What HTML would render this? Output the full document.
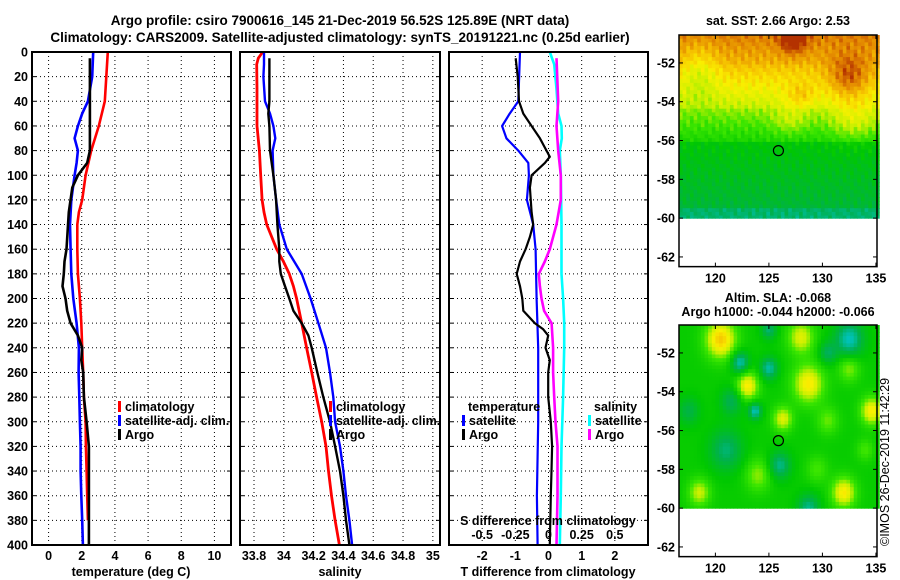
<!DOCTYPE html>
<html><head><meta charset="utf-8">
<style>
html,body{margin:0;padding:0;background:#fff;}
svg{display:block;font-family:"Liberation Sans",Arial,sans-serif;font-weight:bold;}
</style></head>
<body>
<svg id="chart" width="900" height="580" viewBox="0 0 900 580" xmlns="http://www.w3.org/2000/svg">
<g id="maps"></g>
<g id="panels"></g>
<g id="texts" font-size="12.5" fill="#000">
 <text x="340" y="25" text-anchor="middle" font-size="13.5">Argo profile: csiro 7900616_145 21-Dec-2019 56.52S 125.89E (NRT data)</text>
 <text x="340" y="42" text-anchor="middle" font-size="13.5">Climatology: CARS2009. Satellite-adjusted climatology: synTS_20191221.nc (0.25d earlier)</text>
 <text x="131" y="576" text-anchor="middle">temperature (deg C)</text>
 <text x="340" y="576" text-anchor="middle">salinity</text>
 <text x="548" y="576" text-anchor="middle">T difference from climatology</text>
 <text x="548" y="525" text-anchor="middle">S difference from climatology</text>
 <text x="778" y="25" text-anchor="middle">sat. SST: 2.66 Argo: 2.53</text>
 <text x="778" y="302" text-anchor="middle">Altim. SLA: -0.068</text>
 <text x="778" y="316" text-anchor="middle">Argo h1000: -0.044 h2000: -0.066</text>
 <text transform="translate(889,546) rotate(-90)" font-weight="normal" font-size="12.5">©IMOS 26-Dec-2019 11:42:29</text>
</g>
</svg>
<script>
// ---- data (depths in m) ----
const tDepth = [0,40,60,80,100,120,130,140,160,180,200,220,240,260,280,300,320,340,360,380];
const tClim  = [3.57,3.39,3.03,2.57,2.23,2.03,1.83,1.73,1.73,1.77,1.89,1.97,2.03,2.09,2.13,2.23,2.25,2.29,2.33,2.37];
const tSatDepth = [0,20,40,50,60,70,80,90,100,120,140,160,180,200,220,240,260,280,300,320,340,360,380,400];
const tSat   = [2.69,2.63,2.37,2.03,1.77,1.57,1.77,1.69,1.57,1.37,1.29,1.33,1.37,1.49,1.69,1.83,1.81,1.85,1.89,1.93,1.93,1.97,2.03,2.07];
const tArgoDepth = [5,80,90,100,110,130,160,170,180,190,200,210,220,230,240,250,260,280,300,320,340,360,400];
const tArgo  = [2.49,2.49,2.33,1.77,1.43,1.22,1.08,0.96,0.92,0.84,1.02,1.12,1.33,1.77,2.03,1.97,2.09,2.13,2.29,2.43,2.43,2.43,2.43];

const sClimDepth = [0,5,10,30,60,80,100,120,130,140,150,160,170,180,190,200,220,240,260,280,300,320,340,360,380,400];
const sClim = [33.858,33.829,33.818,33.82,33.82,33.836,33.845,33.854,33.867,33.885,33.919,33.952,33.997,34.037,34.064,34.086,34.12,34.153,34.187,34.22,34.254,34.283,34.30,34.32,34.344,34.373];
const sSatDepth = [0,10,20,40,50,60,70,80,100,120,140,160,180,200,220,240,260,280,300,320,340,360,380,400];
const sSat = [33.867,33.867,33.863,33.874,33.907,33.93,33.943,33.925,33.93,33.948,33.97,34.02,34.12,34.18,34.232,34.283,34.31,34.332,34.344,34.377,34.40,34.417,34.44,34.458];
const sArgoDepth = [5,40,50,60,80,100,120,140,160,170,180,190,200,210,220,230,240,260,280,300,320,340,360,380,400];
const sArgo = [33.903,33.903,33.896,33.903,33.907,33.93,33.948,33.957,33.97,33.97,33.98,34.008,34.037,34.064,34.12,34.165,34.187,34.225,34.265,34.31,34.344,34.377,34.40,34.417,34.44];

const dTSatDepth = [0,40,50,60,70,80,90,100,120,140,160,200,240,300,360,400];
const dTSat = [-0.86,-0.91,-1.17,-1.40,-1.27,-0.91,-0.61,-0.59,-0.65,-0.46,-0.39,-0.36,-0.31,-0.31,-0.35,-0.33];
const dTArgoDepth = [5,20,40,50,60,70,80,85,90,100,110,130,140,150,160,170,180,190,200,210,220,225,230,240,250,260,280,300,320,340,360,400];
const dTArgo = [-0.99,-0.93,-0.89,-0.76,-0.51,-0.26,-0.06,0.04,-0.11,-0.51,-0.56,-0.51,-0.46,-0.56,-0.69,-0.86,-0.96,-0.86,-0.79,-0.76,-0.41,-0.16,-0.01,-0.09,0.04,-0.01,-0.01,0.07,0.11,0.09,0.07,0.04];
const dSSatDepth = [0,10,30,50,60,70,80,100,140,180,200,220,240,280,320,360,400];
const dSSat = [0.01,0.043,0.06,0.073,0.098,0.10,0.085,0.093,0.098,0.098,0.11,0.118,0.118,0.11,0.098,0.093,0.085];
const dSArgoDepth = [5,40,60,80,100,120,140,160,170,180,190,200,210,220,240,260,280,300,320,360,400];
const dSArgo = [0.06,0.073,0.06,0.073,0.093,0.093,0.06,0.01,-0.028,-0.073,-0.065,-0.053,-0.033,0.023,0.035,0.035,0.043,0.053,0.068,0.068,0.06];

const depthTicks = [0,20,40,60,80,100,120,140,160,180,200,220,240,260,280,300,320,340,360,380,400];
const tTicks = [0,2,4,6,8,10];
const sTicks = [33.8,34,34.2,34.4,34.6,34.8,35];
const sTickLabels = ["33.8","34","34.2","34.4","34.6","34.8","35"];
const dTTicks = [-2,-1,0,1,2];
const dSTicks = [-0.5,-0.25,0,0.25,0.5];
const dSTickLabels = ["-0.5","-0.25","0","0.25","0.5"];

// map data
const mapLatTicks = [-52,-54,-56,-58,-60,-62];
const mapLonTicks = [120,125,130,135];
const argoLoc = [125.89,-56.52];
// SLA blobs: lon, lat, amplitude, radius(deg)
const slaBlobs = [[120.5,-51.3,1.3,1.4],[122.3,-52.5,-1.0,0.8],[125,-52.8,-0.9,0.8],[123,-53.7,1.1,1.0],[128.7,-53.6,1.1,1.4],[128,-51.2,0.9,1.2],[125,-50.8,-0.7,0.7],[132.5,-51.3,-1.0,1.3],[132.5,-52.8,0.6,1.0],[134.6,-55,1.1,1.0],[126.3,-55.4,0.9,0.9],[123.7,-55,-1.0,0.6],[121,-57,-0.7,1.5],[126,-57.8,-0.8,1.0],[118.5,-59.2,0.8,1.0],[124,-58.3,0.6,1.2],[132,-59.2,1.1,1.1],[129.5,-58,0.4,1.0],[128.7,-60,-0.8,1.0],[134,-57,0.4,0.8],[130.5,-55.5,0.5,1.0],[121.5,-54.5,-0.6,1.0],[117.5,-55,-0.5,1.0],[130.5,-52,-0.6,0.8]];

const NS='http://www.w3.org/2000/svg';
function el(tag, attrs, parent){const e=document.createElementNS(NS,tag);for(const k in attrs)e.setAttribute(k,attrs[k]);parent.appendChild(e);return e;}
const panels=document.getElementById('panels');
const TOP=52,BOT=545;
function yD(d){return TOP+(d/400)*(BOT-TOP);}

function makePanel(name,x0,x1,dmin,dmax){
  const sx=v=>x0+(v-dmin)/(dmax-dmin)*(x1-x0);
  const g=el('g',{},panels);
  
  
  return {g,sx,x0,x1};
}
function grid(p,xticks){
  for(const d of depthTicks){ if(d===0||d===400)continue;
    const l=el('line',{x1:p.x0,x2:p.x1,y1:yD(d),y2:yD(d),stroke:'#000','stroke-width':1,'stroke-dasharray':'1,3'},p.g);
    
    el('line',{x1:p.x0,x2:p.x0+4,y1:yD(d),y2:yD(d),stroke:'#000'},p.g);
    el('line',{x1:p.x1-4,x2:p.x1,y1:yD(d),y2:yD(d),stroke:'#000'},p.g);
  }
  for(const v of xticks){const x=p.sx(v);
    const l=el('line',{x1:x,x2:x,y1:TOP,y2:BOT,stroke:'#000','stroke-width':1,'stroke-dasharray':'1,3'},p.g);
    
  }
}
function frame(p){const r=el('rect',{x:p.x0,y:TOP,width:p.x1-p.x0,height:BOT-TOP,fill:'none',stroke:'#000','stroke-width':2},p.g);
  }
function series(p,vals,depths,color,name,w){
  let d='';vals.forEach((v,i)=>{d+=(i?'L':'M')+p.sx(v).toFixed(1)+','+yD(depths[i]).toFixed(1);});
  const path=el('path',{d,fill:'none',stroke:color,'stroke-width':w||2.6,'stroke-linejoin':'round'},p.g);
  
  
}
function txt(parent,x,y,s,anchor,name,extra){const t=el('text',Object.assign({x,y,'font-size':12.5,'text-anchor':anchor||'start'},extra||{}),parent);t.textContent=s;
  return t;}
function legend(p,x,y,items){
  items.forEach((it,i)=>{const yy=y+i*14;
    const b=el('rect',{x:x,y:yy-10,width:3,height:11,fill:it[1]},p.g);
    
    txt(p.g,x+7,yy,it[0],'start','legend-entry');});
}

// Panel 1 temperature
const p1=makePanel('temperature-panel',32,231,-1,11);
grid(p1,tTicks);
series(p1,tClim,tDepth,'#ff0000','series-climatology-temp');
series(p1,tSat,tSatDepth,'#0000ff','series-satellite-temp');
series(p1,tArgo,tArgoDepth,'#000000','series-argo-temp');
frame(p1);
for(const d of depthTicks) txt(p1.g,28,yD(d)+4.5,String(d),'end','y-tick-label');
tTicks.forEach(v=>txt(p1.g,p1.sx(v),560,String(v),'middle','x-tick-label'));
legend(p1,118,411,[['climatology','#ff0000'],['satellite-adj. clim.','#0000ff'],['Argo','#000000']]);

// Panel 2 salinity
const p2=makePanel('salinity-panel',240,440,33.706,35.048);
grid(p2,sTicks);
series(p2,sClim,sClimDepth,'#ff0000','series-climatology-sal',2.8);
series(p2,sSat,sSatDepth,'#0000ff','series-satellite-sal',2.4);
series(p2,sArgo,sArgoDepth,'#000000','series-argo-sal',2.4);
frame(p2);
sTicks.forEach((v,i)=>txt(p2.g,p2.sx(v),560,sTickLabels[i],'middle','x-tick-label'));
legend(p2,329,411,[['climatology','#ff0000'],['satellite-adj. clim.','#0000ff'],['Argo','#000000']]);

// Panel 3 differences
const p3=makePanel('difference-panel',449,648,-3,3);
const p3s={g:p3.g,sx:v=>p3.sx(v*4)};
grid(p3,dTTicks);
series(p3s,dSSat,dSSatDepth,'#00ffff','series-satellite-sdiff');
series(p3s,dSArgo,dSArgoDepth,'#ff00ff','series-argo-sdiff');
series(p3,dTSat,dTSatDepth,'#0000ff','series-satellite-tdiff',2.2);
series(p3,dTArgo,dTArgoDepth,'#000000','series-argo-tdiff',2.2);
frame(p3);
dTTicks.forEach(v=>txt(p3.g,p3.sx(v),560,String(v),'middle','x-tick-label'));
dSTicks.forEach((v,i)=>txt(p3.g,p3s.sx(v),539,dSTickLabels[i],'middle','s-tick-label'));
txt(p3.g,468,411,'temperature','start','legend-title-temperature');
txt(p3.g,594,411,'salinity','start','legend-title-salinity');
legend(p3,462,425,[['satellite','#0000ff'],['Argo','#000000']]);
legend(p3,588,425,[['satellite','#00ffff'],['Argo','#ff00ff']]);

// ---- maps ----
const maps=document.getElementById('maps');
const MX0=679,MX1=877,LON0=116.6,LON1=135.1,LAT0=-50.56,PXLAT=19.4;
function mx(lon){return MX0+(lon-LON0)/(LON1-LON0)*(MX1-MX0);}
function cmap(v){
  const stops=[[0,[0,200,220]],[0.18,[0,176,80]],[0.35,[0,200,0]],[0.5,[60,230,0]],[0.62,[200,240,0]],[0.72,[250,240,0]],[0.82,[245,190,0]],[0.92,[225,130,0]],[1,[180,50,0]]];
  v=Math.max(0,Math.min(1,v));
  for(let i=1;i<stops.length;i++){if(v<=stops[i][0]){const a=stops[i-1],b=stops[i],t=(v-a[0])/(b[0]-a[0]);
    return 'rgb('+a[1].map((c,k)=>Math.round(c+(b[1][k]-c)*t)).join(',')+')';}}
  return 'rgb(180,50,0)';
}
function sstField(lon,lat){
  let v;
  if(lat>-52) v=0.84+(lat+52)*0.06; else if(lat>-54.3) v=0.62+(lat+54.3)*0.09; else if(lat>-56) v=0.42+(lat+56)*0.1; else v=0.22+(lat+60)*0.03;
  v+=0.18*Math.exp(-((lon-127.3)**2/1.5+(lat+50.8)**2/0.5));
  v+=0.2*Math.exp(-((lon-132.5)**2/4+(lat+52.8)**2/1.2));
  v+=0.14*Math.exp(-((lon-133)**2/6+(lat+55)**2/1.2));
  v+=0.12*Math.exp(-((lon-128)**2/2+(lat+53.7)**2/0.4));
  v-=0.12*Math.exp(-((lon-118.5)**2/3+(lat+52.5)**2/2));
  v+=0.1*Math.exp(-((lon-127)**2/3+(lat+55)**2/0.6));
  if(lat<-59.5) v-=0.08;
  v+=0.05*Math.sin(lon*7.1+lat*3.3)*Math.cos(lat*5.7-lon*1.9);
  return v;
}
function slaField(lon,lat){
  let v=0.37;
  for(const b of slaBlobs){v+=0.33*b[2]*Math.exp(-(((lon-b[0])/b[3])**2+((lat-b[1])/(b[3]*0.7))**2));}
  return v;
}
function drawMap(name,y0,field){
  const g=el('g',{},maps);
  
  const my=lat=>y0+(LAT0-lat)*PXLAT;
  const dLon=0.34,dLat=0.19;
  for(let lat=LAT0;lat>-60;lat-=dLat){for(let lon=LON0;lon<LON1;lon+=dLon){
    const y1=my(lat),y2=Math.min(my(lat-dLat),my(-60));
    el('rect',{x:mx(lon).toFixed(1),y:y1.toFixed(1),width:(mx(lon+dLon)-mx(lon)+0.6).toFixed(1),height:(y2-y1+0.6).toFixed(1),fill:cmap(field(lon+dLon/2,lat-dLat/2))},g);
  }}
  const h=my(-62.5)-y0;
  const fr=el('rect',{x:MX0,y:y0,width:MX1-MX0,height:h,fill:'none',stroke:'#000','stroke-width':1.5},g);
  
  for(const la of mapLatTicks){const y=my(la);
    el('line',{x1:MX0,x2:MX0+4,y1:y,y2:y,stroke:'#000'},g);el('line',{x1:MX1-4,x2:MX1,y1:y,y2:y,stroke:'#000'},g);
    txt(g,MX0-4,y+4.5,String(la),'end','map-lat-label');}
  for(const lo of mapLonTicks){const x=mx(lo);
    el('line',{x1:x,x2:x,y1:y0,y2:y0+4,stroke:'#000'},g);el('line',{x1:x,x2:x,y1:y0+h-4,y2:y0+h,stroke:'#000'},g);
    txt(g,x,y0+h+16,String(lo),'middle','map-lon-label');}
  const c=el('circle',{cx:mx(argoLoc[0]),cy:my(argoLoc[1]),r:5,fill:'none',stroke:'#000','stroke-width':1.2},g);
  
}
drawMap('sst-map',35,sstField);
drawMap('sla-map',325,slaField);
</script>
</body></html>
